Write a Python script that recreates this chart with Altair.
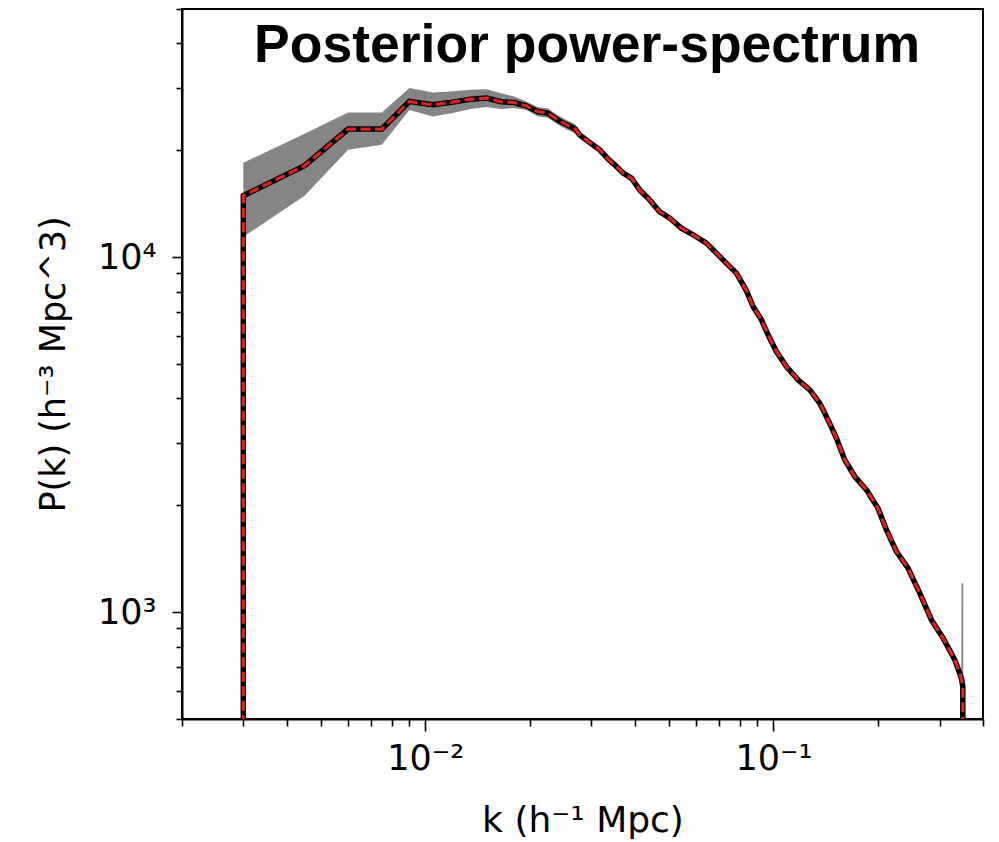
import altair as alt
import pandas as pd

# ---- data ----
# mean posterior power spectrum (line); first/last rows drop below the axis
k_line = [0.003, 0.003, 0.0045, 0.006, 0.0075, 0.009, 0.0105, 0.012, 0.0135,
          0.015, 0.0165, 0.018, 0.0195, 0.021, 0.0225, 0.024, 0.0255, 0.027,
          0.02775, 0.02965, 0.0317, 0.0335, 0.035, 0.037, 0.0391, 0.0413,
          0.0441, 0.0471, 0.0504, 0.0544, 0.0588, 0.0642, 0.0686, 0.0732,
          0.0783, 0.0836, 0.0874, 0.0924, 0.0965, 0.102, 0.109, 0.1177,
          0.1272, 0.1358, 0.1435, 0.1517, 0.1603, 0.1713, 0.185, 0.1998,
          0.2112, 0.2256, 0.2436, 0.2633, 0.2844, 0.3072, 0.3319, 0.3429,
          0.3475, 0.35, 0.35]
p_line = [300, 14890, 18100, 22940, 22940, 27440, 26860, 27330, 27860,
          28050, 27390, 27260, 26680, 25710, 25450, 24370, 23590, 22940,
          22110, 21030, 20060, 18880, 18200, 17250, 16690, 15470,
          14500, 13440, 12880, 12070, 11560, 10950, 10260, 9618,
          9015, 8050, 7258, 6659, 6041, 5422, 4918, 4511,
          4229, 3879, 3481, 3092, 2685, 2410, 2211, 1960,
          1705, 1482, 1330, 1131, 951, 845, 734, 673,
          645, 617, 300]

# posterior credible band (lower / upper)
k_band = [0.003, 0.0045, 0.006, 0.0075, 0.009, 0.0105, 0.012, 0.0135, 0.015,
          0.0165, 0.018, 0.0195, 0.021, 0.0225, 0.024, 0.0255, 0.027,
          0.02775, 0.02965, 0.0317, 0.0335, 0.035, 0.037, 0.0391, 0.0413,
          0.0441, 0.0471, 0.0504, 0.0544, 0.0588, 0.0642, 0.0686, 0.0732,
          0.0783, 0.0836, 0.0874, 0.0924, 0.0965, 0.102, 0.109, 0.1177,
          0.1272, 0.1358, 0.1435, 0.1517, 0.1603, 0.1713, 0.185, 0.1998,
          0.2112, 0.2256, 0.2436, 0.2633, 0.2844, 0.3072, 0.3319, 0.3429,
          0.3465, 0.347, 0.351]
p_lower = [11410, 14880, 20060, 20720, 25990, 24900, 25450, 26120, 26460,
           26120, 26290, 25990, 24940, 24680, 23640, 22890, 22250,
           21780, 20710, 19760, 18600, 17920, 16990, 16440, 15240,
           14290, 13240, 12690, 11890, 11380, 10790, 10110, 9470,
           8880, 7930, 7150, 6560, 5950, 5340, 4840, 4440,
           4170, 3820, 3430, 3050, 2640, 2370, 2180, 1930,
           1680, 1460, 1310, 1110, 937, 832, 723, 663,
           640, 400, 400]
p_upper = [18440, 22250, 25550, 25550, 29940, 29090, 29350, 29600, 29730,
           28970, 28340, 27440, 26480, 26210, 25100, 24300, 23630,
           22440, 21350, 20360, 19170, 18470, 17500, 16940, 15700,
           14720, 13640, 13070, 12250, 11730, 11110, 10420, 9760,
           9150, 8170, 7370, 6760, 6130, 5500, 4990, 4580,
           4290, 3940, 3530, 3140, 2730, 2450, 2240, 1990,
           1730, 1500, 1350, 1150, 965, 858, 745, 683,
           665, 1207, 1207]

x_ticks = [0.002, 0.003, 0.004, 0.005, 0.006, 0.007, 0.008, 0.009, 0.01,
           0.02, 0.03, 0.04, 0.05, 0.06, 0.07, 0.08, 0.09, 0.1, 0.2, 0.3, 0.4]
y_ticks = [500, 600, 700, 800, 900, 1000, 2000, 3000, 4000, 5000, 6000,
           7000, 8000, 9000, 10000, 20000, 30000, 40000, 50000]

title_text = ["Posterior power-spectrum"]

line_df = pd.DataFrame({"k": k_line, "P": p_line, "idx": list(range(len(k_line)))})
band_df = pd.DataFrame({"k": k_band, "lo": p_lower, "hi": p_upper})
title_df = pd.DataFrame({"t": title_text})

FONT = "DejaVu Sans"

x_scale = alt.Scale(type="log", domain=[0.002, 0.4], nice=False)
y_scale = alt.Scale(type="log", domain=[500, 50000], nice=False)

x_axis = alt.Axis(
    title="k (h⁻¹ Mpc)",
    values=x_ticks,
    labelExpr="datum.value == 0.01 ? '10⁻²' : (datum.value == 0.1 ? '10⁻¹' : '')",
    tickSize={"condition": {"test": "datum.value == 0.01 || datum.value == 0.1", "value": 12}, "value": 7},
    grid=False,
    labelFont=FONT,
    labelFontSize=35,
    labelFontWeight="normal",
    labelPadding=10,
    titleFont=FONT,
    titleFontSize=36,
    titleFontWeight="normal",
    titlePadding=27,
    labelFlush=False,
    labelOverlap=False,
)
y_axis = alt.Axis(
    title="P(k) (h⁻³ Mpc^3)",
    values=y_ticks,
    labelExpr="datum.value == 1000 ? '10³' : (datum.value == 10000 ? '10⁴' : '')",
    tickSize={"condition": {"test": "datum.value == 1000 || datum.value == 10000", "value": 10}, "value": 6},
    grid=False,
    labelFont=FONT,
    labelFontSize=35,
    labelFontWeight="normal",
    labelPadding=16,
    titleFont=FONT,
    titleFontSize=35,
    titleFontWeight="normal",
    titlePadding=26,
    labelFlush=False,
    labelOverlap=False,
)

band = alt.Chart(band_df).mark_area(color="#858585", opacity=1, clip=True).encode(
    x=alt.X("k:Q", scale=x_scale, axis=x_axis),
    y=alt.Y("lo:Q", scale=y_scale, axis=y_axis),
    y2="hi:Q",
)

black_line = alt.Chart(line_df).mark_line(color="black", strokeWidth=5.5, clip=True).encode(
    x=alt.X("k:Q", scale=x_scale, axis=x_axis),
    y=alt.Y("P:Q", scale=y_scale, axis=y_axis),
    order="idx:Q",
)

red_line = alt.Chart(line_df).mark_line(
    color="#e0201b", strokeWidth=3.2, strokeDash=[10, 4.5], clip=True
).encode(
    x=alt.X("k:Q", scale=x_scale, axis=x_axis),
    y=alt.Y("P:Q", scale=y_scale, axis=y_axis),
    order="idx:Q",
)

# in-panel heading (placed like a title, inside the frame)
heading = alt.Chart(title_df).mark_text(
    font="Liberation Sans", fontSize=53.5, fontWeight="bold", color="black",
    align="center", baseline="alphabetic",
).encode(
    text="t:N",
    x=alt.value(405),
    y=alt.value(53),
)

chart = alt.layer(band, black_line, red_line, heading).properties(
    width=801,
    height=710,
    padding={"left": 182, "top": 9, "right": 16, "bottom": 123},
    autosize=alt.AutoSizeParams(type="none"),
    background="white",
).configure_view(
    stroke="black", strokeWidth=2
).configure_axis(
    domainColor="black", domainWidth=2, tickColor="black", tickWidth=1.6,
    labelColor="black", titleColor="black",
)

chart.save("out.html", embed_options={"renderer": "svg", "actions": False})
